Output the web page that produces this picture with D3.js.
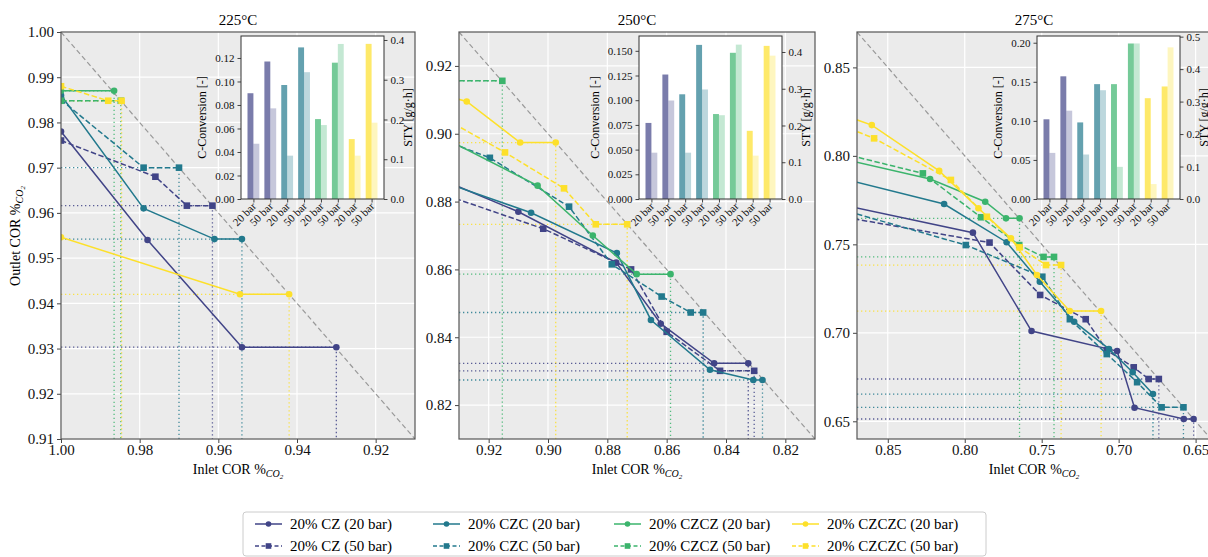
<!DOCTYPE html>
<html>
<head>
<meta charset="utf-8">
<script src="https://cdn.jsdelivr.net/npm/d3@7"></script>
<style>
  body { margin: 0; background: #fff; }
  svg, svg text { font-family: "Liberation Serif", "Times New Roman", "DejaVu Serif", serif; }
</style>
</head>
<body>
<div id="chart"></div>
<script>
// ---- data ----
const temps = ["225°C", "250°C", "275°C"];
const seriesNames = ["20% CZ (20 bar)", "20% CZ (50 bar)", "20% CZC (20 bar)", "20% CZC (50 bar)",
                     "20% CZCZ (20 bar)", "20% CZCZ (50 bar)", "20% CZCZC (20 bar)", "20% CZCZC (50 bar)"];
const seriesColors = ["#414487", "#414487", "#22798d", "#22798d", "#3bb46c", "#3bb46c", "#fde02a", "#fde02a"];
const seriesDashed = [false, true, false, true, false, true, false, true];

// inlet / outlet COR for every pass, one list per series
const in225 = [
  [1.000, 0.978, 0.954, 0.930],
  [1.000, 0.976, 0.968, 0.9615],
  [1.000, 0.979, 0.961, 0.954],
  [1.000, 0.979, 0.970],
  [1.000, 0.9865],
  [1.000, 0.9848],
  [1.000, 0.9545, 0.942],
  [1.000, 0.988, 0.9846]
];
const out225 = [
  [0.978, 0.954, 0.9303, 0.9303],
  [0.976, 0.968, 0.9616, 0.9616],
  [0.986, 0.961, 0.9542, 0.9542],
  [0.985, 0.970, 0.970],
  [0.987, 0.987],
  [0.9848, 0.9848],
  [0.9546, 0.942, 0.942],
  [0.988, 0.9848, 0.9848]
];
const in250 = [
  [1.000, 0.910, 0.877, 0.862, 0.844, 0.8325],
  [1.000, 0.9016, 0.872, 0.860, 0.842, 0.8305],
  [1.000, 0.9057, 0.8768, 0.8653, 0.8454, 0.8308, 0.8277],
  [1.000, 0.9196, 0.8929, 0.8785, 0.8617, 0.8519, 0.8477],
  [1.000, 0.9457, 0.9035, 0.8849, 0.8701, 0.8587],
  [1.000, 0.9154],
  [1.000, 0.9274, 0.9094, 0.8974],
  [1.000, 0.9553, 0.9145, 0.8946, 0.8839, 0.8733]
];
const out250 = [
  [0.910, 0.877, 0.862, 0.844, 0.8323, 0.8323],
  [0.9016, 0.872, 0.860, 0.8416, 0.8301, 0.8301],
  [0.9057, 0.8767, 0.8648, 0.8451, 0.8304, 0.8274, 0.8274],
  [0.9196, 0.8929, 0.8785, 0.8615, 0.852, 0.8473, 0.8473],
  [0.9457, 0.9035, 0.8847, 0.870, 0.8586, 0.8586],
  [0.9156, 0.9156],
  [0.9274, 0.9095, 0.8974, 0.8974],
  [0.9553, 0.9145, 0.8945, 0.8839, 0.8733, 0.8733]
];
const in275 = [
  [1.000, 0.7947, 0.7566, 0.701, 0.6897, 0.6577, 0.6513],
  [1.000, 0.7839, 0.751, 0.7214, 0.7077, 0.6902, 0.6805, 0.6739],
  [1.000, 0.8134, 0.7728, 0.7512, 0.7289, 0.7063, 0.6909, 0.6777],
  [1.000, 0.7993, 0.7496, 0.7317, 0.7077, 0.688, 0.6721, 0.6579],
  [1.000, 0.8225, 0.7867, 0.7732, 0.7644],
  [1.000, 0.8272, 0.7894, 0.7646, 0.7488, 0.742],
  [1.000, 0.8604, 0.8166, 0.7911, 0.770, 0.7531, 0.7318, 0.7114],
  [1.000, 0.8589, 0.809, 0.7856, 0.7644, 0.7472, 0.7374]
];
const out275 = [
  [0.7947, 0.7566, 0.701, 0.6897, 0.6577, 0.6513, 0.6513],
  [0.7839, 0.751, 0.7214, 0.7077, 0.6902, 0.6805, 0.6739, 0.6739],
  [0.8134, 0.7728, 0.7512, 0.7289, 0.7063, 0.6909, 0.6777, 0.6654],
  [0.7993, 0.7496, 0.7317, 0.7077, 0.688, 0.6721, 0.6579, 0.6579],
  [0.8225, 0.7869, 0.7741, 0.7647, 0.7647],
  [0.8272, 0.7901, 0.7653, 0.7496, 0.7429, 0.7429],
  [0.8604, 0.8174, 0.7915, 0.7704, 0.7534, 0.7327, 0.7123, 0.7123],
  [0.8589, 0.8099, 0.7864, 0.7656, 0.7483, 0.7383, 0.7383]
];

// inset bars: C-conversion (left axis) and STY (right axis)
const barLabels = ["20 bar", "50 bar", "20 bar", "50 bar", "20 bar", "50 bar", "20 bar", "50 bar"];
const conv225 = [0.090, 0.117, 0.097, 0.129, 0.068, 0.116, 0.051, 0.132];
const sty225  = [0.139, 0.228, 0.109, 0.319, 0.186, 0.390, 0.109, 0.192];
const conv250 = [0.077, 0.126, 0.106, 0.156, 0.086, 0.148, 0.069, 0.155];
const sty250  = [0.126, 0.268, 0.126, 0.298, 0.228, 0.420, 0.118, 0.390];
const conv275 = [0.102, 0.157, 0.098, 0.147, 0.147, 0.199, 0.129, 0.144];
const sty275  = [0.142, 0.272, 0.137, 0.335, 0.099, 0.479, 0.046, 0.467];

// tick labels
const ticks225 = [0.91, 0.92, 0.93, 0.94, 0.95, 0.96, 0.97, 0.98, 0.99, 1.00];
const xticks225 = [1.00, 0.98, 0.96, 0.94, 0.92];
const ticks250 = [0.82, 0.84, 0.86, 0.88, 0.90, 0.92];
const ticks275 = [0.65, 0.70, 0.75, 0.80, 0.85];
const convTicks = [[0, 0.02, 0.04, 0.06, 0.08, 0.10, 0.12], [0, 0.025, 0.05, 0.075, 0.1, 0.125, 0.15], [0, 0.05, 0.1, 0.15, 0.2]];
const styTicks = [[0, 0.1, 0.2, 0.3, 0.4], [0, 0.1, 0.2, 0.3, 0.4], [0, 0.1, 0.2, 0.3, 0.4, 0.5]];

// ---- layout ----
const FONT = "Liberation Serif, Times New Roman, DejaVu Serif, serif";
const width = 1208, height = 557;
const plotTop = 32, plotBottom = 439;
const panels = [
  {x0: 61,  x1: 415,  dom: [0.91, 1.00], xt: xticks225, yt: ticks225,
   ins: in225, outs: out225, conv: conv225, sty: sty225, convMax: 0.1387, styMax: 0.41, convFmt: ".2f", labOff: 35, styOff: 28},
  {x0: 459, x1: 815,  dom: [0.81, 0.93], xt: ticks250, yt: ticks250,
   ins: in250, outs: out250, conv: conv250, sty: sty250, convMax: 0.165, styMax: 0.4435, convFmt: ".3f", labOff: 40, styOff: 28},
  {x0: 857, x1: 1211, dom: [0.64, 0.87], xt: ticks275, yt: ticks275,
   ins: in275, outs: out275, conv: conv275, sty: sty275, convMax: 0.2086, styMax: 0.502, convFmt: ".2f", labOff: 35, styOff: 27.5}
];

const svg = d3.select("#chart").append("svg")
  .attr("width", width)
  .attr("height", height)
  .attr("font-family", FONT);

function styleAxis(a, size) {
  a.attr("font-family", FONT);
  a.select(".domain").remove();
  a.selectAll("line").attr("stroke", "#444");
  a.selectAll("text").attr("font-size", size).attr("font-family", FONT).attr("fill", "#111");
}

panels.forEach((p, pi) => {
  const g = svg.append("g");

  /* scales: inlet axis runs high -> low */
  const x = d3.scaleLinear().domain([p.dom[1], p.dom[0]]).range([p.x0, p.x1]);
  const y = d3.scaleLinear().domain(p.dom).range([plotBottom, plotTop]);

  const clipId = "clip" + pi;
  svg.append("clipPath").attr("id", clipId)
    .append("rect")
    .attr("x", p.x0).attr("y", plotTop)
    .attr("width", p.x1 - p.x0).attr("height", plotBottom - plotTop);

  g.append("rect")
    .attr("x", p.x0).attr("y", plotTop)
    .attr("width", p.x1 - p.x0).attr("height", plotBottom - plotTop)
    .attr("fill", "#ebebeb");

  /* white grid */
  g.selectAll(".gx").data(p.xt).join("line")
    .attr("x1", d => x(d)).attr("x2", d => x(d))
    .attr("y1", plotTop).attr("y2", plotBottom)
    .attr("stroke", "#fff").attr("stroke-width", 1.2);
  g.selectAll(".gy").data(p.yt).join("line")
    .attr("x1", p.x0).attr("x2", p.x1)
    .attr("y1", d => y(d)).attr("y2", d => y(d))
    .attr("stroke", "#fff").attr("stroke-width", 1.2);

  const plot = g.append("g").attr("clip-path", `url(#${clipId})`);

  /* parity line */
  plot.append("line")
    .attr("x1", x(p.dom[1])).attr("y1", y(p.dom[1]))
    .attr("x2", x(p.dom[0])).attr("y2", y(p.dom[0]))
    .attr("stroke", "#999").attr("stroke-width", 1.2)
    .attr("stroke-dasharray", "5,3");

  /* dotted guides from the last pass */
  p.outs.forEach((outs, si) => {
    const lx = p.ins[si][p.ins[si].length - 1];
    const ly = outs[outs.length - 1];
    plot.append("path")
      .attr("d", `M${p.x0},${y(ly)}H${x(lx)}V${plotBottom}`)
      .attr("fill", "none")
      .attr("stroke", seriesColors[si]).attr("stroke-width", 1.3)
      .attr("stroke-dasharray", "1.3,2.7")
      .attr("opacity", 0.85);
  });

  /* series lines + markers */
  const line = d3.line().x(d => x(d[0])).y(d => y(d[1]));
  p.outs.forEach((outs, si) => {
    const pts = outs.map((o, k) => [p.ins[si][k], o]);
    plot.append("path")
      .datum(pts)
      .attr("d", line)
      .attr("fill", "none")
      .attr("stroke", seriesColors[si])
      .attr("stroke-width", 1.5)
      .attr("stroke-dasharray", seriesDashed[si] ? "5.5,2.5" : null);
    if (seriesDashed[si]) {
      plot.selectAll(null).data(pts).join("rect")
        .attr("x", d => x(d[0]) - 3.3).attr("y", d => y(d[1]) - 3.3)
        .attr("width", 6.6).attr("height", 6.6)
        .attr("fill", seriesColors[si]);
    } else {
      plot.selectAll(null).data(pts).join("circle")
        .attr("cx", d => x(d[0])).attr("cy", d => y(d[1]))
        .attr("r", 3.3)
        .attr("fill", seriesColors[si]);
    }
  });

  /* axes */
  const fmt = d3.format(".2f");
  const xAxis = g.append("g")
    .attr("transform", `translate(0,${plotBottom})`)
    .call(d3.axisBottom(x).tickValues(p.xt).tickFormat(fmt).tickSize(4).tickSizeOuter(0));
  const yAxis = g.append("g")
    .attr("transform", `translate(${p.x0},0)`)
    .call(d3.axisLeft(y).tickValues(p.yt).tickFormat(fmt).tickSize(4).tickSizeOuter(0));
  styleAxis(xAxis, 15);
  styleAxis(yAxis, 15);
  xAxis.selectAll("text").attr("y", 5);

  g.append("rect")
    .attr("x", p.x0).attr("y", plotTop)
    .attr("width", p.x1 - p.x0).attr("height", plotBottom - plotTop)
    .attr("fill", "none").attr("stroke", "#555").attr("stroke-width", 1.2);

  /* title + x label */
  const cx = (p.x0 + p.x1) / 2;
  g.append("text")
    .attr("x", cx).attr("y", 25)
    .attr("text-anchor", "middle").attr("font-size", 15)
    .text(temps[pi]);

  const xl = g.append("text")
    .attr("x", cx).attr("y", 474)
    .attr("text-anchor", "middle").attr("font-size", 14);
  xl.append("tspan").text("Inlet COR %");
  xl.append("tspan").attr("font-size", 10).attr("font-style", "italic").attr("dy", 3).text("CO");
  xl.append("tspan").attr("font-size", 7).attr("font-style", "italic").attr("dy", 2).text("2");

  /* ---- inset bar chart ---- */
  const ix0 = p.x0 + 180, ix1 = ix0 + 143, iy0 = 36, iy1 = 199;
  const ig = g.append("g");
  ig.append("rect")
    .attr("x", ix0).attr("y", iy0)
    .attr("width", ix1 - ix0).attr("height", iy1 - iy0)
    .attr("fill", "#fff");

  const bx = d3.scaleLinear().domain([-0.735, 7.735]).range([ix0, ix1]);
  const yc = d3.scaleLinear().domain([0, p.convMax]).range([iy1, iy0]);
  const ys = d3.scaleLinear().domain([0, p.styMax]).range([iy1, iy0]);
  const bw = 0.35;

  ig.selectAll(".conv").data(p.conv).join("rect")
    .attr("x", (d, i) => bx(i - bw)).attr("width", bx(bw) - bx(0))
    .attr("y", d => yc(d)).attr("height", d => iy1 - yc(d))
    .attr("fill", (d, i) => seriesColors[i]).attr("fill-opacity", 0.7);
  ig.selectAll(".sty").data(p.sty).join("rect")
    .attr("x", (d, i) => bx(i)).attr("width", bx(bw) - bx(0))
    .attr("y", d => ys(d)).attr("height", d => iy1 - ys(d))
    .attr("fill", (d, i) => seriesColors[i]).attr("fill-opacity", 0.3);

  const axL = ig.append("g").attr("transform", `translate(${ix0},0)`)
    .call(d3.axisLeft(yc).tickValues(convTicks[pi]).tickFormat(d3.format(p.convFmt)).tickSize(3.5).tickSizeOuter(0));
  const axR = ig.append("g").attr("transform", `translate(${ix1},0)`)
    .call(d3.axisRight(ys).tickValues(styTicks[pi]).tickFormat(d3.format(".1f")).tickSize(3.5).tickSizeOuter(0));
  const axB = ig.append("g").attr("transform", `translate(0,${iy1})`)
    .call(d3.axisBottom(bx).tickValues(d3.range(barLabels.length)).tickFormat(i => barLabels[i]).tickSize(3.5).tickSizeOuter(0));
  [axL, axR, axB].forEach(a => styleAxis(a, 11));
  axB.selectAll("text")
    .attr("text-anchor", "end")
    .attr("dy", null).attr("y", 0)
    .attr("transform", "translate(3,8) rotate(-45)");

  ig.append("rect")
    .attr("x", ix0).attr("y", iy0)
    .attr("width", ix1 - ix0).attr("height", iy1 - iy0)
    .attr("fill", "none").attr("stroke", "#333").attr("stroke-width", 1);

  const icy = (iy0 + iy1) / 2;
  ig.append("text")
    .attr("transform", `translate(${ix0 - p.labOff},${icy}) rotate(-90)`)
    .attr("text-anchor", "middle").attr("font-size", 12)
    .text("C-Conversion [-]");
  ig.append("text")
    .attr("transform", `translate(${ix1 + p.styOff},${icy}) rotate(-90)`)
    .attr("text-anchor", "middle").attr("font-size", 12)
    .text("STY [g/g·h]");
});

/* y label (left panel only) */
const yl = svg.append("text")
  .attr("transform", "translate(20,236) rotate(-90)")
  .attr("text-anchor", "middle").attr("font-size", 14);
yl.append("tspan").text("Outlet COR %");
yl.append("tspan").attr("font-size", 10).attr("font-style", "italic").attr("dy", 3).text("CO");
yl.append("tspan").attr("font-size", 7).attr("font-style", "italic").attr("dy", 2).text("2");

/* ---- legend ---- */
const legend = svg.append("g");
legend.append("rect")
  .attr("x", 243).attr("y", 512).attr("width", 743).attr("height", 44)
  .attr("rx", 3)
  .attr("fill", "#fff").attr("stroke", "#ccc");
const colX = [255, 433, 614, 792];
const rowY = [524, 546];
seriesNames.forEach((name, si) => {
  const lx = colX[Math.floor(si / 2)], ly = rowY[si % 2];
  const item = legend.append("g");
  item.append("line")
    .attr("x1", lx).attr("x2", lx + 27).attr("y1", ly).attr("y2", ly)
    .attr("stroke", seriesColors[si]).attr("stroke-width", 1.5)
    .attr("stroke-dasharray", seriesDashed[si] ? "4,2.5" : null);
  if (seriesDashed[si]) {
    item.append("rect").attr("x", lx + 13.5 - 2.8).attr("y", ly - 2.8)
      .attr("width", 5.6).attr("height", 5.6).attr("fill", seriesColors[si]);
  } else {
    item.append("circle").attr("cx", lx + 13.5).attr("cy", ly).attr("r", 2.8)
      .attr("fill", seriesColors[si]);
  }
  item.append("text")
    .attr("x", lx + 35).attr("y", ly + 5)
    .attr("font-size", 15)
    .text(name);
});
</script>
</body>
</html>
